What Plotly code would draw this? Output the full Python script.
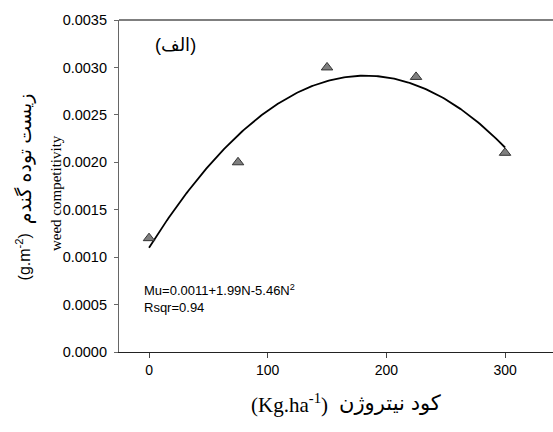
import numpy as np
import plotly.graph_objects as go

# Nitrogen fertiliser rates (kg/ha) and observed weed competitivity
nitrogen = [0, 75, 150, 225, 300]
competitivity = [0.0012, 0.0020, 0.0030, 0.0029, 0.0021]

# Quadratic fit: Mu = a + b*N - c*N^2  (b in 1e-5, c in 1e-8 units)
fit_a = 0.0011
fit_b = 1.99
fit_c = 5.46
fit_r2 = 0.94

x_ticks = [0, 100, 200, 300]
y_ticks = [0.0, 0.0005, 0.0010, 0.0015, 0.0020, 0.0025, 0.0030, 0.0035]

n_curve = np.linspace(min(nitrogen), max(nitrogen), 200)
mu_curve = fit_a + fit_b * 1e-5 * n_curve - fit_c * 1e-8 * n_curve ** 2

fig = go.Figure()
fig.add_trace(go.Scatter(
    x=n_curve, y=mu_curve, mode="lines",
    line=dict(color="black", width=1.8), hoverinfo="skip", showlegend=False,
))
fig.add_trace(go.Scatter(
    x=nitrogen, y=competitivity, mode="markers",
    marker=dict(symbol="triangle-up", size=10, color="#7f7f7f",
                line=dict(color="#333333", width=1)),
    showlegend=False,
))

sans = "Arial, Liberation Sans, DejaVu Sans, sans-serif"
serif = "Times New Roman, Liberation Serif, serif"

fig.update_layout(
    width=553, height=432,
    margin=dict(l=119, r=0, t=20, b=80),
    paper_bgcolor="white", plot_bgcolor="white",
    font=dict(family=sans, size=14, color="black"),
    xaxis=dict(
        range=[-25.3, 340.4], tickvals=x_ticks, ticktext=[str(v) for v in x_ticks],
        showline=True, linecolor="#222222", linewidth=1.2,
        ticks="outside", ticklen=5, tickcolor="#444444", tickwidth=1,
        showgrid=False, zeroline=False, tickfont=dict(size=14),
    ),
    yaxis=dict(
        range=[0, 0.0035], tickvals=y_ticks,
        ticktext=[f"{v:.4f}" for v in y_ticks],
        showline=True, linecolor="#666666", linewidth=1.2,
        ticks="outside", ticklen=4, tickcolor="#666666", tickwidth=1,
        showgrid=False, zeroline=False, tickfont=dict(size=14.5),
        ticklabelstandoff=4,
    ),
    shapes=[dict(type="line", xref="paper", yref="paper", x0=0, x1=1, y0=1, y1=1,
                 line=dict(color="black", width=1.2))],
)

annotations = [
    # panel label
    dict(text="(الف)", x=0.131, y=0.925, xref="paper", yref="paper",
         xanchor="center", yanchor="middle",
         showarrow=False, font=dict(size=18, family=sans)),
    # fitted equation
    dict(text=f"Mu={fit_a}+{fit_b}N-{fit_c}N<sup>2</sup><br>Rsqr={fit_r2}",
         x=0.053, y=0.16, xref="paper", yref="paper", xanchor="left",
         yanchor="middle", align="left", showarrow=False,
         font=dict(size=13, family=sans)),
    # x-axis title
    dict(text="(Kg.ha<sup>-1</sup>)", x=0.486, y=-0.155, xref="paper", yref="paper",
         xanchor="right", yanchor="middle", showarrow=False,
         font=dict(size=21, family=serif)),
    dict(text="کود نیتروژن", x=0.502, y=-0.155, xref="paper", yref="paper",
         xanchor="left", yanchor="middle", showarrow=False,
         font=dict(size=21, family=sans)),
    # y-axis title
    dict(text="(g.m<sup>-2</sup>)", x=-0.219, y=0.211, xref="paper", yref="paper",
         xanchor="center", yanchor="bottom", textangle=-90, showarrow=False,
         font=dict(size=16, family=sans)),
    dict(text="زیست توده گندم", x=-0.219, y=0.38, xref="paper", yref="paper",
         xanchor="center", yanchor="bottom", textangle=-90, showarrow=False,
         font=dict(size=19, family=sans)),
    dict(text="weed competitivity", x=-0.145, y=0.479, xref="paper", yref="paper",
         xanchor="center", yanchor="middle", textangle=-90, showarrow=False,
         font=dict(size=15, family=serif)),
]
fig.update_layout(annotations=annotations)

fig.write_html("out.html")
